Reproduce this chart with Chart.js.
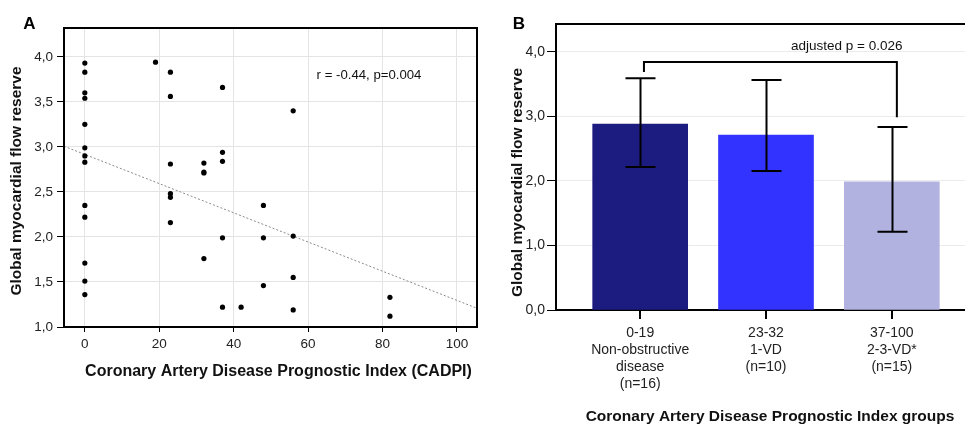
<!DOCTYPE html>
<html><head><meta charset="utf-8">
<script src="https://cdn.jsdelivr.net/npm/chart.js@4/dist/chart.umd.min.js"></script>
<style>
html,body{margin:0;padding:0;background:#fff;overflow:hidden;width:965px;height:425px;}
#wrap{position:relative;width:965px;height:425px;overflow:hidden;background:#fff;}
#ca{position:absolute;left:0;top:0;}
#cb{position:absolute;left:490px;top:0;}
</style></head><body>
<div id="wrap">
<canvas id="ca" width="490" height="425"></canvas>
<canvas id="cb" width="490" height="425"></canvas>
</div>
<script>
// ---------- Panel A data ----------
const cadpi = [0,0,0,0,0,0,0,0,0,0,0,0,0, 19, 23,23,23,23,23,23, 32,32,32,32, 37,37,37,37,37, 42, 48,48,48, 56,56,56,56, 82,82];
const gmfr  = [3.93,3.83,3.60,3.54,3.25,2.99,2.90,2.83,2.35,2.22,1.71,1.51,1.36, 3.94, 3.83,3.56,2.81,2.48,2.44,2.16, 2.82,2.72,2.71,1.76, 3.66,2.94,2.84,1.99,1.22, 1.22, 2.35,1.99,1.46, 3.40,2.01,1.55,1.19, 1.33,1.12];
const fitX = [-5.6, 105.4];
const fitY = [3.007, 1.208];
const xTicksA = [0,20,40,60,80,100];
const yTicksA = [1.0,1.5,2.0,2.5,3.0,3.5,4.0];
const annotA = "r = -0.44, p=0.004";

// ---------- Panel B data ----------
const groupLabels = [
  ["0-19","Non-obstructive","disease","(n=16)"],
  ["23-32","1-VD","(n=10)"],
  ["37-100","2-3-VD*","(n=15)"]
];
const groupMeans = [2.884, 2.713, 1.989];
const groupHigh  = [3.592, 3.566, 2.837];
const groupLow   = [2.217, 2.155, 1.214];
const groupColors = ["#1c1c80", "#3333ff", "#b2b2e1"];
const yTicksB = [0,1,2,3,4];
const bracketX = [0.03, 2.04];
const bracketTop = 3.845;
const bracketLegs = [3.69, 2.99];
const bracketText = "adjusted p = 0.026";

const yTitle = "Global myocardial flow reserve";
const xTitleA = "Coronary Artery Disease Prognostic Index (CADPI)";
const xTitleB = "Coronary Artery Disease Prognostic Index groups";

const FF = "'Liberation Sans', Arial, Helvetica, sans-serif";
const fmt = v => v.toFixed(1).replace('.', ',');

function txt(ctx, s, x, y, font, color, rot) {
  ctx.save();
  ctx.font = font; ctx.fillStyle = color || '#000';
  ctx.textAlign = 'center'; ctx.textBaseline = 'middle';
  ctx.translate(x, y);
  if (rot) ctx.rotate(rot);
  ctx.fillText(s, 0, 0);
  ctx.restore();
}

// ---------- Panel A ----------
const plugA = {
  id: 'plugA',
  afterDraw(chart) {
    const ctx = chart.ctx, a = chart.chartArea;
    ctx.save();
    ctx.strokeStyle = '#000'; ctx.lineWidth = 2;
    ctx.strokeRect(a.left, a.top, a.right - a.left, a.bottom - a.top);
    ctx.restore();
    txt(ctx, 'A', 29.5, 24, "bold 17px " + FF, '#000');
    txt(ctx, annotA, 369, 75, "13.2px " + FF, '#111');
    txt(ctx, xTitleA, 278.5, 372, "bold 16px " + FF, '#111');
    txt(ctx, yTitle, 17, 181, "bold 15.5px " + FF, '#111', -Math.PI / 2);
  }
};

new Chart(document.getElementById('ca'), {
  type: 'scatter',
  data: {
    datasets: [
      {
        data: fitX.map((x, i) => ({x: x, y: fitY[i]})),
        type: 'line', showLine: true, borderColor: '#8a8a8a', borderWidth: 1,
        borderDash: [2, 2], pointRadius: 0, fill: false, order: 2
      },
      {
        data: cadpi.map((x, i) => ({x: x, y: gmfr[i]})),
        backgroundColor: '#000', borderColor: '#000', pointRadius: 2.6,
        pointBorderWidth: 0, order: 1
      }
    ]
  },
  options: {
    responsive: false, animation: false,
    layout: {padding: {top: 28, right: 13, left: 0, bottom: 0}},
    plugins: {legend: {display: false}, tooltip: {enabled: false}},
    scales: {
      x: {
        type: 'linear', min: -5.6, max: 105.4,
        afterBuildTicks: s => { s.ticks = xTicksA.map(v => ({value: v})); },
        afterFit: s => { s.height = 98; },
        grid: {color: '#e4e4e4', lineWidth: 1, tickLength: 5, tickColor: '#000'},
        border: {display: true, color: '#000', width: 2},
        ticks: {font: {size: 13.5, family: FF}, color: '#222', padding: 4, maxRotation: 0}
      },
      y: {
        type: 'linear', min: 1.0, max: 4.32,
        afterBuildTicks: s => { s.ticks = yTicksA.map(v => ({value: v})); },
        afterFit: s => { s.width = 64; },
        grid: {color: '#e4e4e4', lineWidth: 1, tickLength: 7, tickColor: '#000'},
        border: {display: true, color: '#000', width: 2},
        ticks: {font: {size: 13.5, family: FF}, color: '#222', padding: 4, callback: v => fmt(v)}
      }
    }
  },
  plugins: [plugA]
});

// ---------- Panel B ----------
const plugB = {
  id: 'plugB',
  afterDatasetsDraw(chart) {
    const ctx = chart.ctx, a = chart.chartArea;
    const xs = chart.scales.x, ys = chart.scales.y;
    ctx.save();
    ctx.strokeStyle = '#000'; ctx.lineWidth = 2;
    // top border
    ctx.beginPath(); ctx.moveTo(a.left - 1, a.top); ctx.lineTo(a.right, a.top); ctx.stroke();
    // error bars
    for (let i = 0; i < groupMeans.length; i++) {
      const px = Math.round(xs.getPixelForValue(i)) + 0.5;
      const yh = ys.getPixelForValue(groupHigh[i]);
      const yl = ys.getPixelForValue(groupLow[i]);
      ctx.beginPath();
      ctx.moveTo(px, yh); ctx.lineTo(px, yl);
      ctx.moveTo(px - 15, yh); ctx.lineTo(px + 15, yh);
      ctx.moveTo(px - 15, yl); ctx.lineTo(px + 15, yl);
      ctx.stroke();
    }
    // bracket
    const bx0 = xs.getPixelForValue(bracketX[0]), bx1 = xs.getPixelForValue(bracketX[1]);
    const bt = ys.getPixelForValue(bracketTop);
    ctx.beginPath();
    ctx.moveTo(bx0, ys.getPixelForValue(bracketLegs[0]));
    ctx.lineTo(bx0, bt); ctx.lineTo(bx1, bt);
    ctx.lineTo(bx1, ys.getPixelForValue(bracketLegs[1]));
    ctx.stroke();
    ctx.restore();
    txt(ctx, bracketText, 356.7, 46.5, "13.5px " + FF, '#111');
    txt(ctx, 'B', 29, 24, "bold 17px " + FF, '#000');
    txt(ctx, xTitleB, 280, 417, "bold 15.5px " + FF, '#111');
    txt(ctx, yTitle, 28, 182.5, "bold 15.5px " + FF, '#111', -Math.PI / 2);
  }
};

new Chart(document.getElementById('cb'), {
  type: 'bar',
  data: {
    datasets: [{
      data: groupMeans.map((v, i) => ({x: i, y: v})),
      backgroundColor: groupColors, borderWidth: 0, barThickness: 95
    }]
  },
  options: {
    responsive: false, animation: false,
    layout: {padding: {top: 24, right: 4, left: 0, bottom: 0}},
    plugins: {legend: {display: false}, tooltip: {enabled: false}},
    scales: {
      x: {
        type: 'linear', min: -0.669, max: 2.669, offset: false,
        afterBuildTicks: s => { s.ticks = groupLabels.map((l, i) => ({value: i})); },
        afterFit: s => { s.height = 115; },
        grid: {offset: false, drawOnChartArea: false, drawTicks: true, tickLength: 9, tickColor: '#000', lineWidth: 2},
        border: {display: true, color: '#000', width: 2},
        ticks: {
          font: {size: 14, family: FF, lineHeight: 1.2}, color: '#222', padding: 6, maxRotation: 0,
          autoSkip: false,
          callback: (v) => groupLabels[Math.round(v)]
        }
      },
      y: {
        type: 'linear', min: 0, max: 4.434,
        afterBuildTicks: s => { s.ticks = yTicksB.map(v => ({value: v})); },
        afterFit: s => { s.width = 66; },
        grid: {color: '#ebebeb', lineWidth: 1, tickLength: 9, tickColor: '#000'},
        border: {display: true, color: '#000', width: 2},
        ticks: {font: {size: 14, family: FF}, color: '#222', padding: 2, callback: v => fmt(v)}
      }
    }
  },
  plugins: [plugB]
});
</script>
</body></html>
